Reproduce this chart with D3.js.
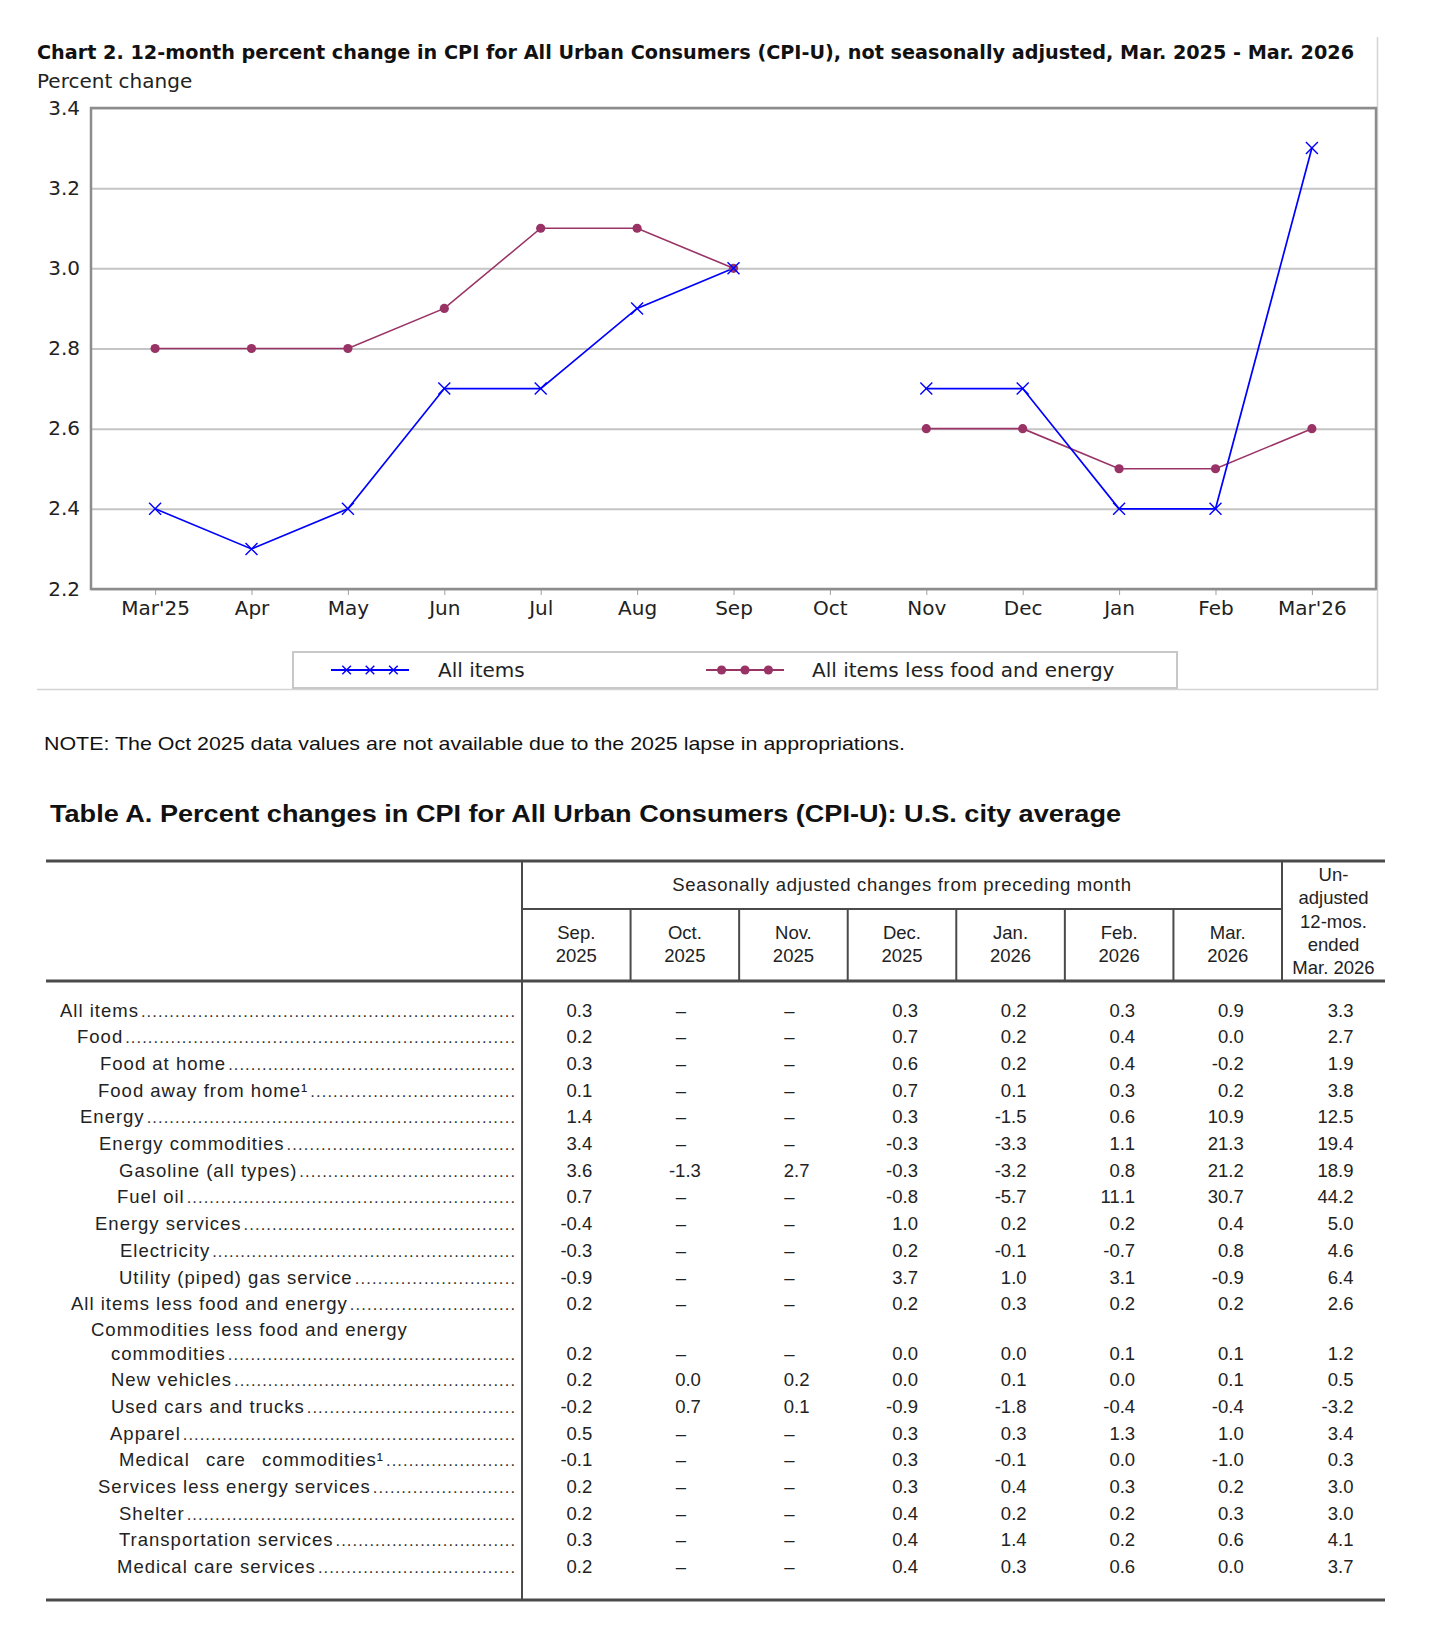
<!DOCTYPE html>
<html>
<head>
<meta charset="utf-8">
<script src="https://cdn.jsdelivr.net/npm/d3@7"></script>
<style>
  html, body { margin: 0; padding: 0; background: #fff; }
  svg { display: block; }
</style>
</head>
<body>
<svg id="c" width="1444" height="1644"></svg>
<script>
// ---------------- DATA ----------------
const chartTitle = "Chart 2. 12-month percent change in CPI for All Urban Consumers (CPI-U), not seasonally adjusted, Mar. 2025 - Mar. 2026";
const yAxisTitle = "Percent change";
const months = ["Mar'25","Apr","May","Jun","Jul","Aug","Sep","Oct","Nov","Dec","Jan","Feb","Mar'26"];
const allItems  = [2.4, 2.3, 2.4, 2.7, 2.7, 2.9, 3.0, null, 2.7, 2.7, 2.4, 2.4, 3.3];
const coreItems = [2.8, 2.8, 2.8, 2.9, 3.1, 3.1, 3.0, null, 2.6, 2.6, 2.5, 2.5, 2.6];
const yTicks = [2.2, 2.4, 2.6, 2.8, 3.0, 3.2, 3.4];
const seriesNames = ["All items", "All items less food and energy"];
const noteText = "NOTE: The Oct 2025 data values are not available due to the 2025 lapse in appropriations.";

const tableTitle = "Table A. Percent changes in CPI for All Urban Consumers (CPI-U): U.S. city average";
const groupHeader = "Seasonally adjusted changes from preceding month";
const monthHeaders = [["Sep.","2025"],["Oct.","2025"],["Nov.","2025"],["Dec.","2025"],["Jan.","2026"],["Feb.","2026"],["Mar.","2026"]];
const unadjHeader = ["Un-","adjusted","12-mos.","ended","Mar. 2026"];
const rowLabels = [
  ["All items"], ["Food"], ["Food at home"], ["Food away from home\u00b9"], ["Energy"],
  ["Energy commodities"], ["Gasoline (all types)"], ["Fuel oil"], ["Energy services"],
  ["Electricity"], ["Utility (piped) gas service"], ["All items less food and energy"],
  ["Commodities less food and energy", "commodities"], ["New vehicles"], ["Used cars and trucks"],
  ["Apparel"], ["Medical care commodities\u00b9"], ["Services less energy services"],
  ["Shelter"], ["Transportation services"], ["Medical care services"]
];
const sep25 = [0.3,0.2,0.3,0.1,1.4,3.4,3.6,0.7,-0.4,-0.3,-0.9,0.2,0.2,0.2,-0.2,0.5,-0.1,0.2,0.2,0.3,0.2];
const oct25 = [null,null,null,null,null,null,-1.3,null,null,null,null,null,null,0.0,0.7,null,null,null,null,null,null];
const nov25 = [null,null,null,null,null,null,2.7,null,null,null,null,null,null,0.2,0.1,null,null,null,null,null,null];
const dec25 = [0.3,0.7,0.6,0.7,0.3,-0.3,-0.3,-0.8,1.0,0.2,3.7,0.2,0.0,0.0,-0.9,0.3,0.3,0.3,0.4,0.4,0.4];
const jan26 = [0.2,0.2,0.2,0.1,-1.5,-3.3,-3.2,-5.7,0.2,-0.1,1.0,0.3,0.0,0.1,-1.8,0.3,-0.1,0.4,0.2,1.4,0.3];
const feb26 = [0.3,0.4,0.4,0.3,0.6,1.1,0.8,11.1,0.2,-0.7,3.1,0.2,0.1,0.0,-0.4,1.3,0.0,0.3,0.2,0.2,0.6];
const mar26 = [0.9,0.0,-0.2,0.2,10.9,21.3,21.2,30.7,0.4,0.8,-0.9,0.2,0.1,0.1,-0.4,1.0,-1.0,0.2,0.3,0.6,0.0];
const unadj12 = [3.3,2.7,1.9,3.8,12.5,19.4,18.9,44.2,5.0,4.6,6.4,2.6,1.2,0.5,-3.2,3.4,0.3,3.0,3.0,4.1,3.7];

// ---------------- LAYOUT ----------------
const rowIndent = [60,77,100,98,80,99,119,117,95,120,119,71,[91,111],111,111,110,119,98,119,119,117];
const svg = d3.select("#c");
const CHART_FONT = "'DejaVu Sans', Verdana, sans-serif";
const TABLE_FONT = "'Liberation Sans', Arial, Helvetica, sans-serif";

// ---------------- CHART ----------------
svg.append("text")
  .attr("x", 37).attr("y", 59)
  .attr("font-family", CHART_FONT).attr("font-weight", "bold").attr("font-size", 19.5)
  .attr("fill", "#111")
  .attr("textLength", 1317).attr("lengthAdjust", "spacingAndGlyphs")
  .text(chartTitle);

svg.append("text")
  .attr("x", 37).attr("y", 88)
  .attr("font-family", CHART_FONT).attr("font-size", 20).attr("fill", "#222")
  .text(yAxisTitle);

// outer frame (right + bottom)
svg.append("path")
  .attr("d", "M1377.5,37V689.5H37")
  .attr("fill", "none").attr("stroke", "#d4d4d4").attr("stroke-width", 1.5);

const P = { left: 91, right: 1376, top: 108, bottom: 589 };
const x = d3.scalePoint().domain(months).range([P.left, P.right]).padding(0.665);
const y = d3.scaleLinear().domain([2.2, 3.4]).range([P.bottom, P.top]);

// y axis + gridlines
const gy = svg.append("g").attr("transform", `translate(${P.left},0)`)
  .call(d3.axisLeft(y).tickValues(yTicks).tickFormat(d => d.toFixed(1))
        .tickSize(-(P.right - P.left)).tickPadding(11));
gy.select(".domain").remove();
gy.selectAll(".tick line").attr("stroke", "#c4c4c4").attr("stroke-width", 2);
gy.selectAll(".tick text").attr("font-family", CHART_FONT).attr("font-size", 20)
  .attr("fill", "#222").attr("dy", "0.3em");

// x axis
const gx = svg.append("g").attr("transform", `translate(0,${P.bottom})`)
  .call(d3.axisBottom(x).tickSize(6).tickPadding(6));
gx.select(".domain").remove();
gx.selectAll(".tick line").attr("stroke", "#a0a0a0").attr("stroke-width", 1);
gx.selectAll(".tick text").attr("font-family", CHART_FONT).attr("font-size", 20).attr("fill", "#222");

// plot border
svg.append("rect")
  .attr("x", P.left).attr("y", P.top)
  .attr("width", P.right - P.left).attr("height", P.bottom - P.top)
  .attr("fill", "none").attr("stroke", "#8c8c8c").attr("stroke-width", 2.5);

const BLUE = "#0000ff", MAROON = "#993366";
const lineGen = d3.line().defined(d => d.v != null).x(d => x(d.m)).y(d => y(d.v));
const allData = months.map((m, i) => ({ m, v: allItems[i] }));
const coreData = months.map((m, i) => ({ m, v: coreItems[i] }));

svg.append("path").datum(coreData).attr("d", lineGen)
  .attr("fill", "none").attr("stroke", MAROON).attr("stroke-width", 1.6);
svg.append("path").datum(allData).attr("d", lineGen)
  .attr("fill", "none").attr("stroke", BLUE).attr("stroke-width", 1.7);

const xMark = d3.symbol().type(d3.symbolX || d3.symbolCross).size(95);
svg.append("g").selectAll("circle").data(coreData.filter(d => d.v != null)).join("circle")
  .attr("cx", d => x(d.m)).attr("cy", d => y(d.v)).attr("r", 4.6).attr("fill", MAROON);
svg.append("g").selectAll("path").data(allData.filter(d => d.v != null)).join("path")
  .attr("transform", d => `translate(${x(d.m)},${y(d.v)})`)
  .attr("d", xMark).attr("fill", "none").attr("stroke", BLUE).attr("stroke-width", 1.4);

// legend
const lg = svg.append("g");
lg.append("rect").attr("x", 293).attr("y", 652).attr("width", 884).attr("height", 36)
  .attr("fill", "#fff").attr("stroke", "#c8c8c8").attr("stroke-width", 2);
const legendItems = [
  { name: seriesNames[0], color: BLUE, kind: "x", x0: 331, tx: 438 },
  { name: seriesNames[1], color: MAROON, kind: "dot", x0: 706, tx: 812 }
];
const lgY = 670;
legendItems.forEach(it => {
  const sx = d3.scaleLinear().domain([0, 1]).range([it.x0, it.x0 + 78]);
  lg.append("line").attr("x1", sx(0)).attr("x2", sx(1)).attr("y1", lgY).attr("y2", lgY)
    .attr("stroke", it.color).attr("stroke-width", 2);
  [0.2, 0.5, 0.8].forEach(t => {
    if (it.kind === "x") {
      lg.append("path").attr("transform", `translate(${sx(t)},${lgY})`)
        .attr("d", d3.symbol().type(d3.symbolX || d3.symbolCross).size(50))
        .attr("fill", "none").attr("stroke", it.color).attr("stroke-width", 1.4);
    } else {
      lg.append("circle").attr("cx", sx(t)).attr("cy", lgY).attr("r", 4.6).attr("fill", it.color);
    }
  });
  lg.append("text").attr("x", it.tx).attr("y", lgY + 7)
    .attr("font-family", CHART_FONT).attr("font-size", 20).attr("fill", "#222").text(it.name);
});

// note
svg.append("text").attr("x", 44).attr("y", 750)
  .attr("font-family", TABLE_FONT).attr("font-size", 19).attr("fill", "#111")
  .attr("textLength", 861).attr("lengthAdjust", "spacingAndGlyphs")
  .text(noteText);

// ---------------- TABLE ----------------
svg.append("text").attr("x", 50).attr("y", 822)
  .attr("font-family", TABLE_FONT).attr("font-weight", "bold").attr("font-size", 23).attr("fill", "#111")
  .attr("textLength", 1071).attr("lengthAdjust", "spacingAndGlyphs")
  .text(tableTitle);

const T = { left: 46, right: 1385, top: 861, subRule: 909, headBottom: 981, bottom: 1600, stub: 522, unadj: 1282 };
const colX = d3.scaleBand().domain(d3.range(monthHeaders.length)).range([T.stub, T.unadj]);
const RULE = "#4a4a4a";
const tg = svg.append("g").attr("stroke", RULE).attr("fill", "none");
tg.append("line").attr("x1", T.left).attr("x2", T.right).attr("y1", T.top).attr("y2", T.top).attr("stroke-width", 3);
tg.append("line").attr("x1", T.left).attr("x2", T.right).attr("y1", T.headBottom).attr("y2", T.headBottom).attr("stroke-width", 3);
tg.append("line").attr("x1", T.left).attr("x2", T.right).attr("y1", T.bottom).attr("y2", T.bottom).attr("stroke-width", 3);
tg.append("line").attr("x1", T.stub).attr("x2", T.stub).attr("y1", T.top).attr("y2", T.bottom).attr("stroke-width", 2);
tg.append("line").attr("x1", T.unadj).attr("x2", T.unadj).attr("y1", T.top).attr("y2", T.headBottom).attr("stroke-width", 2);
tg.append("line").attr("x1", T.stub).attr("x2", T.unadj).attr("y1", T.subRule).attr("y2", T.subRule).attr("stroke-width", 2);
d3.range(1, monthHeaders.length).forEach(i => {
  tg.append("line").attr("x1", colX(i)).attr("x2", colX(i))
    .attr("y1", T.subRule).attr("y2", T.headBottom).attr("stroke-width", 2);
});

const TXT = "#222";
const TFS = 18.5;
svg.append("text").attr("x", (T.stub + T.unadj) / 2).attr("y", 891).attr("text-anchor", "middle")
  .attr("font-family", TABLE_FONT).attr("font-size", TFS).attr("fill", TXT)
  .attr("letter-spacing", 0.7).text(groupHeader);

monthHeaders.forEach((lines, i) => {
  lines.forEach((s, j) => {
    svg.append("text").attr("x", colX(i) + colX.bandwidth() / 2).attr("y", 939 + j * 23)
      .attr("text-anchor", "middle").attr("font-family", TABLE_FONT).attr("font-size", TFS)
      .attr("fill", TXT).text(s);
  });
});
const unadjCenter = (T.unadj + T.right) / 2;
unadjHeader.forEach((s, j) => {
  svg.append("text").attr("x", unadjCenter).attr("y", 881 + j * 23.3)
    .attr("text-anchor", "middle").attr("font-family", TABLE_FONT).attr("font-size", TFS)
    .attr("fill", TXT).text(s);
});

// row positions
const rowY = d3.scaleLinear().domain([0, 1]).range([1010, 1036.7]);
const rowCenter = i => rowY(i) + (i >= 12 ? 22.6 : 0);
const leaderEnd = 515;
const fmt = v => v.toFixed(1);
const cols = [sep25, oct25, nov25, dec25, jan26, feb26, mar26];

rowLabels.forEach((lines, i) => {
  const cy = rowCenter(i);
  const indents = Array.isArray(rowIndent[i]) ? rowIndent[i] : [rowIndent[i]];
  lines.forEach((s, j) => {
    const ly = cy + 6.5 - (lines.length - 1 - j) * 23.5;
    const t = svg.append("text").attr("x", indents[j]).attr("y", ly)
      .attr("font-family", TABLE_FONT).attr("font-size", TFS).attr("fill", TXT)
      .attr("letter-spacing", 1.0)
      .attr("word-spacing", s.startsWith("Medical care comm") ? 10 : 0)
      .text(s);
    if (j === lines.length - 1) {
      const w = t.node().getComputedTextLength();
      const start = indents[j] + w + 2;
      const n = Math.max(1, Math.floor((leaderEnd - start) / 5.6));
      svg.append("text").attr("x", start).attr("y", ly)
        .attr("font-family", TABLE_FONT).attr("font-size", TFS - 2).attr("fill", "#333")
        .attr("textLength", leaderEnd - start).attr("lengthAdjust", "spacing")
        .text(".".repeat(n));
    }
  });
  cols.forEach((col, k) => {
    const v = col[i];
    const c = colX(k) + colX.bandwidth() / 2;
    const tx = svg.append("text").attr("y", cy + 6.5).attr("font-family", TABLE_FONT)
      .attr("font-size", TFS).attr("fill", TXT);
    if (v == null) tx.attr("x", c - 4).attr("text-anchor", "middle").text("\u2013");
    else tx.attr("x", c + 16).attr("text-anchor", "end").text(fmt(v));
  });
  svg.append("text").attr("y", cy + 6.5).attr("x", unadjCenter + 20).attr("text-anchor", "end")
    .attr("font-family", TABLE_FONT).attr("font-size", TFS).attr("fill", TXT).text(fmt(unadj12[i]));
});
</script>
</body>
</html>
